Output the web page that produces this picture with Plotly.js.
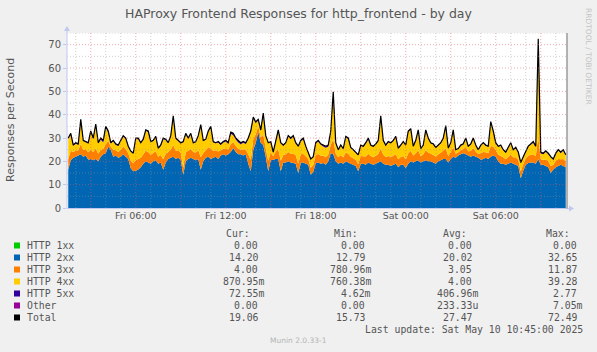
<!DOCTYPE html>
<html><head><meta charset="utf-8">
<script src="https://cdn.plot.ly/plotly-3.0.1.min.js"></script>
<style>html,body{margin:0;padding:0;background:#F0F0F0;}#chart{width:597px;height:352px;}</style>
</head><body><div id="chart"></div>
<script>
// ---- data (10-minute samples starting Fri 2025-05-09 01:30) ----
const startUTC = Date.UTC(2025, 4, 9, 1, 30);
const stepMinutes = 10;

const http2xx = [
16.5,20.5,21.5,22,22.5,23,22,22.5,20.7,21,
20.5,21,20,22,23,23.5,26.3,25,22,22.5,
21.5,22,23,22,21,17,15.7,16,16.5,17.5,
19,20,19.5,19,20,20.5,19,19.5,16.4,19.5,
21,21.5,22,21,21.5,20.5,14.3,20,21,21.5,
21,20.5,21,16.4,20,21.5,22,21,21.5,22,
21,22.5,23,22.5,23,24,25.7,24,23,23,
22.5,23,19,15.7,25,28,32.6,28,27,22,
15.7,20.5,20.7,21,21,15.7,19.5,19.5,20,19.5,
19.3,19,15,19.3,19.5,19,18.5,14.3,15.5,19.3,
19.5,19,19.3,18.5,20,23.5,23,20,19,19.5,
19,20,19.5,19,18.5,18,15.7,19,19,18.5,
19.5,19,18.5,19,19.5,20,19,18.5,18.5,18,
18.5,19,17.5,18.5,18.5,17.1,19,20,19.5,20,
20.5,19.5,20,20.5,20,20,19.5,19,20,20.5,
21,21,19.5,21,22,21.5,22.5,23,23.5,23,
22.5,22,22.5,22,21.5,20.7,21,21.5,21,22,
22.5,22,20,19,19,18.5,19,19.5,19,18.5,
18,12.8,16,18.5,19.3,19.5,19.5,19,21,18.5,
18.5,18,17.5,15,16.5,17.5,18,18.5,18,17.5];

const http3xx = [
4.5,4,2.5,2.6,2.2,4.4,3,2.7,3.2,4,
3.5,4.5,3.3,3,2.4,3.8,2.5,1.2,3,2.2,
2.5,3,3.2,3.3,2.5,3.3,3.5,4.5,4.5,4,
4,4.5,4.5,3.8,3.6,3.8,3,3.2,4.5,3.8,
3,3.6,5,3.5,3.2,3.2,3,4,3.5,3.8,
3,3.3,3.8,5.5,3.5,3.3,4,4.5,3,2.7,
3.2,2.2,2.4,2.8,2.2,3.3,2.6,2.6,2.4,2.1,
2.6,2.1,4,5,4.5,3.5,2.4,2.3,4.5,3.5,
4.5,3.3,1.5,3.3,4.2,4.5,3.2,3.5,4,3.8,
4,3.6,4,3.7,3.8,3.2,2.5,3,2.9,3.5,
3.6,3.4,3.2,3.2,2.9,3.5,6.5,3.3,2.7,3.2,
2.8,3.8,3.8,3,2.8,2.7,3.1,3.3,3.2,3.6,
3.8,3.3,3.3,3.4,3.6,5.5,3.8,3.4,3.8,3.8,
3.9,4,3.4,3.4,3.8,3.7,4.5,4.5,3,3.5,
4.3,2.7,3,4.3,3.8,3.3,3.3,3,3,3.2,
3.6,4.6,2.8,3,4,1.7,1.4,1.8,1.8,3,
1.8,2.4,3.2,2.2,1.6,2.8,3,2.4,2.5,4.6,
3.9,2.7,2.9,3.3,2.7,2.4,3,3.4,2.7,3.2,
2.7,3,2.7,2.7,3.1,3.3,3.5,3.2,9.5,2.3,
2.2,2.8,2.6,3,2,2.7,3,2.4,3,2.5];

const http4xx = [
8.6,7,2.7,3,2.3,10,3.6,3,3.6,7.6,
5.5,9.9,4.3,4.2,2.7,7,3.6,1.3,3.6,2.3,
2.6,3.7,4.3,4.3,2.7,3.8,4,9.1,8.5,6.1,
6.2,8.6,8.5,5.3,5.1,6,3.4,3.9,8.6,5.8,
3.7,5.5,11.9,5.1,4,3.9,10.9,7.5,5.1,6.4,
3.6,4.4,5.8,13.3,5.1,4.4,6.6,9,3.6,3,
3.9,2.3,2.7,3.1,2.3,4.5,2.9,2.8,2.7,2.2,
2.9,2.3,6.6,11.8,8.8,4.9,2.5,2.6,8.4,5.1,
7.5,4.3,1.5,4.3,7.8,7.5,3.9,4.7,6.6,6.2,
7.3,5.1,7.2,5.6,6.2,3.9,2.7,3.5,3.3,4.8,
5.4,4.7,3.9,4.1,3.3,5.1,18.8,4.2,2.9,4,
3.3,6.4,6.3,3.7,3.3,3,3.8,4.4,3.9,5.4,
6.1,4.3,4.4,4.7,5.4,13.3,5.8,4.8,5.8,5.9,
6.2,7.4,4.5,4.7,5.9,5.8,9,9.1,3.7,5.1,
8.4,2.9,3.7,8.3,5.9,4.3,4.4,3.6,3.7,3.9,
5.1,9.3,3.1,3.6,7.2,1.6,1.3,1.8,1.9,3.6,
1.9,2.7,4,2.4,1.6,3.1,3.7,2.7,2.7,10,
6.3,2.9,3.3,4.3,3,2.7,3.7,4.7,3,3.9,
3,3.5,3,2.9,3.8,4.3,5,3.9,39.3,2.6,
2.3,3.3,2.9,3.6,2.2,2.9,3.7,2.6,3.6,2.7];

const http5xx = [
0.4,0.5,0.3,0.4,0.5,0.6,0.4,0.3,0.5,0.4,
0.5,0.6,0.4,0.8,0.9,0.7,0.6,0.5,0.4,0.5,
0.4,0.3,0.5,0.4,0.3,0.4,0.3,0.4,0.5,0.4,
0.3,0.4,0.5,0.4,0.3,0.4,0.3,0.4,0.5,0.4,
0.3,0.4,0.6,0.4,0.3,0.4,0.3,0.5,0.4,0.3,
0.4,0.3,0.4,0.5,0.4,0.3,0.4,0.5,0.4,0.3,
0.4,0.5,0.4,0.6,0.5,0.7,0.8,0.6,0.9,0.7,
0.5,0.6,0.4,0.5,0.7,0.6,0.5,0.6,0.8,0.4,
0.3,0.4,0.3,0.4,0.5,0.3,0.4,0.3,0.4,0.5,
0.4,0.3,0.3,0.4,0.5,0.4,0.3,0.2,0.3,0.4,
0.5,0.4,0.6,0.7,0.8,0.9,1.5,0.5,0.4,0.3,
0.4,0.5,0.4,0.3,0.4,0.3,0.2,0.3,0.4,0.5,
0.6,0.4,0.3,0.4,0.5,0.7,0.4,0.3,0.4,0.3,
0.4,0.3,0.3,0.4,0.3,0.4,0.5,0.4,0.3,0.4,
0.3,0.4,0.3,0.4,0.3,0.4,0.3,0.4,0.3,0.4,
0.3,0.4,0.3,0.4,0.3,0.2,0.3,0.4,0.3,0.4,
0.3,0.4,0.3,0.4,0.3,0.4,0.3,0.4,0.3,0.4,
0.3,0.4,0.3,0.4,0.3,0.4,0.3,0.4,0.3,0.4,
0.3,0.2,0.3,0.4,0.3,0.4,0.5,0.4,2.7,0.6,
0.5,0.4,0.5,0.4,0.3,0.4,0.3,0.5,0.4,0.1];

const xTickVals = ['2025-05-09 06:00','2025-05-09 12:00','2025-05-09 18:00','2025-05-10 00:00','2025-05-10 06:00'];
const xTickText = ['Fri 06:00','Fri 12:00','Fri 18:00','Sat 00:00','Sat 06:00'];
const xRange = ['2025-05-09 01:25','2025-05-10 10:45'];

const legendLabels = ['HTTP 1xx','HTTP 2xx','HTTP 3xx','HTTP 4xx','HTTP 5xx','Other','Total'];
const statCur = [0, 14.20, 4.00, 0.87095, 0.07255, 0, 19.06];
const statMin = [0, 12.79, 0.78096, 0.76038, 0.00462, 0, 15.73];
const statAvg = [0, 20.02, 3.05, 4.00, 0.40696, 0.00023333, 27.47];
const statMax = [0, 32.65, 11.87, 39.28, 2.77, 0.00705, 72.49];

// ---- styles ----
const colors = ['#00CC00','#0066B3','#FF8000','#FFCC00','#330099','#990099','#000000'];
const txt = '#555555';

const times = http2xx.map((_, i) => new Date(startUTC + i*stepMinutes*60000).toISOString().slice(0,19).replace('T',' '));
const total = http2xx.map((v, i) => v + http3xx[i] + http4xx[i] + http5xx[i]);

const area = (y, c, name) => ({x: times, y: y, name: name, type: 'scatter', mode: 'none', stackgroup: 'one', fill: 'tonexty', fillcolor: c, line: {width: 0}, hoverinfo: 'skip'});
const traces = [
  area(http2xx, colors[1], 'HTTP 2xx'),
  area(http3xx, colors[2], 'HTTP 3xx'),
  area(http4xx, colors[3], 'HTTP 4xx'),
  area(http5xx, colors[4], 'HTTP 5xx'),
  {x: times, y: total, name: 'Total', type: 'scatter', mode: 'lines', line: {color: '#000000', width: 1.2}, hoverinfo: 'skip'}
];

const L = 67, R = 567, T = 33, B = 208;
const px = x => (x - L) / (R - L);
const py = y => (B - y) / (B - T);

const shapes = [];
// grid lines (drawn above data, like RRDtool)
const majorGrid = 'rgba(230,90,90,0.5)', minorGrid = 'rgba(150,150,150,0.45)';
for (let v = 5; v <= 75; v += 5) {
  shapes.push({type:'line', layer:'above', xref:'paper', yref:'y', x0:0, x1:1, y0:v, y1:v,
    line:{color: v % 10 === 0 ? majorGrid : minorGrid, width:1, dash:'1px,2px'}});
}
for (let h = 2; h <= 34; h++) {
  const t = new Date(Date.UTC(2025,4,9,0,0) + h*3600000).toISOString().slice(0,19).replace('T',' ');
  shapes.push({type:'line', layer:'above', xref:'x', yref:'paper', x0:t, x1:t, y0:0, y1:1,
    line:{color: h % 3 === 0 ? majorGrid : minorGrid, width:1, dash:'1px,2px'}});
}
const axisCol = '#C0C8F0';
shapes.push({type:'line', layer:'above', xref:'paper', yref:'paper', x0:px(67), x1:px(67), y0:py(208.5), y1:py(29), line:{color:axisCol, width:1}});
shapes.push({type:'line', layer:'above', xref:'paper', yref:'paper', x0:px(67), x1:px(571), y0:py(208.5), y1:py(208.5), line:{color:axisCol, width:1}});
shapes.push({type:'path', layer:'above', xref:'paper', yref:'paper',
  path:`M${px(64)},${py(31)} L${px(70)},${py(31)} L${px(67)},${py(26)} Z`, fillcolor:axisCol, line:{width:0}});
shapes.push({type:'path', layer:'above', xref:'paper', yref:'paper',
  path:`M${px(569)},${py(205.5)} L${px(569)},${py(211.5)} L${px(574)},${py(208.5)} Z`, fillcolor:axisCol, line:{width:0}});
// right frame line
shapes.push({type:'line', layer:'above', xref:'paper', yref:'paper', x0:px(567), x1:px(567), y0:py(208.5), y1:py(33), line:{color:'#A0A0A0', width:1.6}});

// ---- annotations ----
const ann = [];
const A = (x, y, text, o) => ann.push(Object.assign({xref:'paper', yref:'paper', x:px(x), y:py(y), text:text, showarrow:false,
  borderpad:0, borderwidth:0, xanchor:'left', yanchor:'middle', font:{family:'DejaVu Sans', size:10, color:txt}}, o || {}));

A(298.5, 13.5, 'HAProxy Frontend Responses for http_frontend - by day', {xanchor:'center', font:{family:'DejaVu Sans', size:12.5, color:txt}});
A(10, 120, 'Responses per Second', {xanchor:'center', textangle:-90, font:{family:'DejaVu Sans', size:11, color:txt}});
A(589, 56, 'RRDTOOL / TOBI OETIKER', {xanchor:'center', textangle:90, font:{family:'DejaVu Sans', size:7.5, color:'#C4C4C4'}});
A(298, 340.5, 'Munin 2.0.33-1', {xanchor:'center', font:{family:'DejaVu Sans', size:7.5, color:'#B4B4B4'}});

const mono = {family:'DejaVu Sans Mono', size:9.8, color:txt};
function fmt(v) {
  if (v === 0) return '0.00\u00A0';
  const a = Math.abs(v);
  if (a < 1e-3) return (v*1e6).toFixed(2) + 'u';
  if (a < 1) return (v*1e3).toFixed(2) + 'm';
  return v.toFixed(2) + '\u00A0';
}
A(250, 233, 'Cur:', {xanchor:'right', font:mono});
A(358, 233, 'Min:', {xanchor:'right', font:mono});
A(467, 233, 'Avg:', {xanchor:'right', font:mono});
A(570, 233, 'Max:', {xanchor:'right', font:mono});
legendLabels.forEach((lab, k) => {
  const y = 245.5 + 12*k;
  shapes.push({type:'rect', xref:'paper', yref:'paper', x0:px(14), x1:px(20), y0:py(y-3), y1:py(y+3), fillcolor:colors[k], line:{width:0}});
  A(27, y, lab, {font:mono});
  A(264.3, y, fmt(statCur[k]), {xanchor:'right', font:mono});
  A(371, y, fmt(statMin[k]), {xanchor:'right', font:mono});
  A(477.7, y, fmt(statAvg[k]), {xanchor:'right', font:mono});
  A(583.3, y, fmt(statMax[k]), {xanchor:'right', font:mono});
});
A(583.3, 329.3, 'Last update: Sat May 10 10:45:00 2025', {xanchor:'right', font:mono});

const layout = {
  width:597, height:352,
  margin:{l:67, r:30, t:33, b:144, pad:0},
  paper_bgcolor:'#F0F0F0', plot_bgcolor:'#FFFFFF',
  showlegend:false,
  font:{family:'DejaVu Sans', size:10, color:txt},
  xaxis:{type:'date', range:xRange, tickmode:'array', tickvals:xTickVals, ticktext:xTickText,
    showgrid:false, zeroline:false, showline:false, ticks:'', tickfont:{size:9.5, color:txt}, fixedrange:true},
  yaxis:{range:[0,75], tickmode:'linear', tick0:0, dtick:10, showgrid:false, zeroline:false, showline:false,
    ticks:'outside', ticklen:3, tickcolor:axisCol, tickfont:{size:10, color:txt}, fixedrange:true},
  shapes:shapes, annotations:ann
};
Plotly.newPlot('chart', traces, layout, {staticPlot:true, displayModeBar:false});
</script></body></html>
